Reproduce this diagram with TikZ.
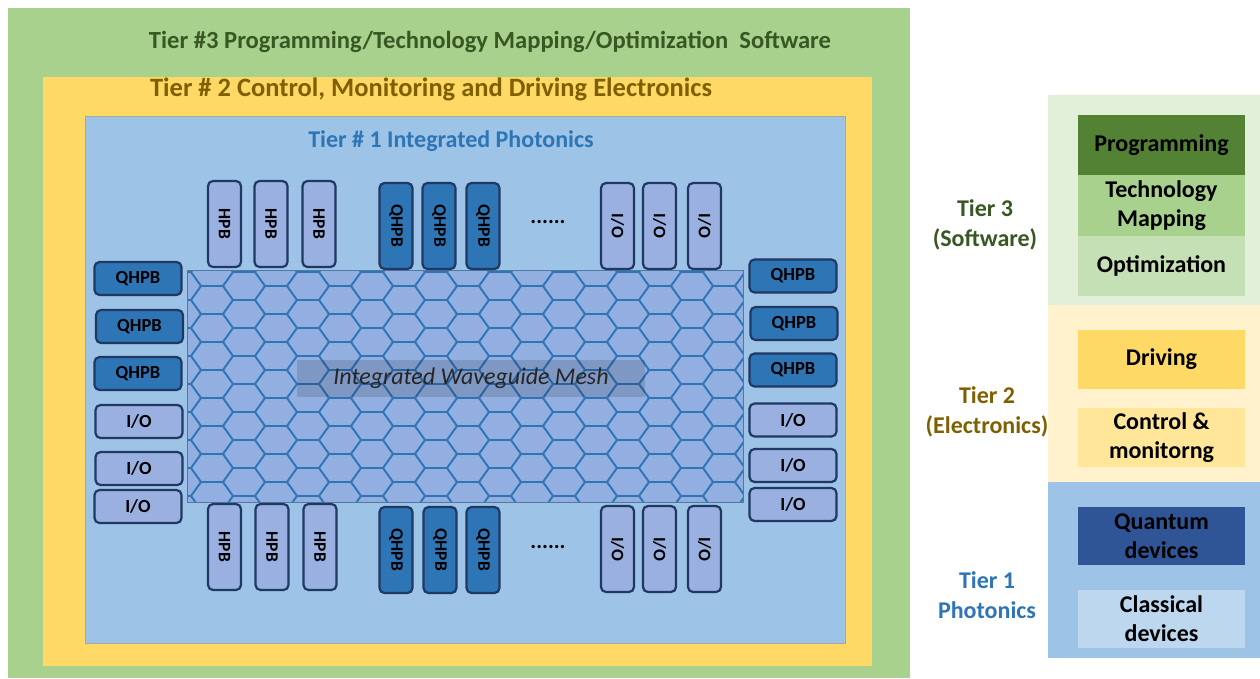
\documentclass[tikz,border=0pt]{standalone}
\usepackage{fontspec}
\setmainfont{Carlito}
\definecolor{tgreen}{HTML}{A9D18E}
\definecolor{tyellow}{HTML}{FFD966}
\definecolor{tblue}{HTML}{9DC3E6}
\definecolor{meshfill}{HTML}{93AEE0}
\definecolor{hexline}{HTML}{2E75B6}
\definecolor{boxlight}{HTML}{9AB0E0}
\definecolor{boxdark}{HTML}{2E75B6}
\definecolor{boxborder}{HTML}{1F3864}
\definecolor{txtgreen}{HTML}{385723}
\definecolor{txtbrown}{HTML}{7F6000}
\definecolor{txtblue}{HTML}{2E75B6}
\definecolor{lgpanel}{HTML}{E2F0D9}
\definecolor{lypanel}{HTML}{FFF2CC}
\definecolor{lbpanel}{HTML}{9DC3E6}
\definecolor{cprog}{HTML}{548235}
\definecolor{ctech}{HTML}{A9D18E}
\definecolor{copt}{HTML}{C5E0B4}
\definecolor{cdrive}{HTML}{FFD966}
\definecolor{cctrl}{HTML}{FFE699}
\definecolor{cquant}{HTML}{2F5597}
\definecolor{cclass}{HTML}{BDD7EE}
\tikzset{
  vbox/.style={draw=boxborder, line width=2.2pt, rounded corners=5pt, fill=boxlight,
    minimum width=33pt, minimum height=86pt, inner sep=0pt,
    font=\bfseries\fontsize{17.5}{17.5}\selectfont},
  vqbox/.style={vbox, fill=boxdark},
  hbox/.style={draw=boxborder, line width=2.2pt, rounded corners=5pt, fill=boxlight,
    minimum width=87pt, minimum height=33pt, inner sep=0pt,
    font=\bfseries\fontsize{18.5}{18.5}\selectfont},
  hqbox/.style={hbox, fill=boxdark},
  title/.style={font=\bfseries\fontsize{24.6}{24.6}\selectfont},
  lgbox/.style={minimum width=167pt, inner sep=0pt, align=center,
    font=\bfseries\fontsize{24}{29}\selectfont, text=black},
  tierlbl/.style={align=center, font=\bfseries\fontsize{24}{30}\selectfont},
  dots/.style={font=\bfseries\fontsize{22}{22}\selectfont}
}
\begin{document}
\begin{tikzpicture}[x=1pt,y=-1pt]
\useasboundingbox (0,0) rectangle (1260,678);
\fill[white] (0,0) rectangle (1260,678);
% tier frames
\fill[tgreen] (8,8) rectangle (910,678);
\fill[tyellow] (43,77) rectangle (872,666);
\fill[tblue] (85,116) rectangle (845,643);
\draw[gray!70, line width=0.6pt] (85,116) rectangle (845,643);
\node[title, text=txtgreen] (t3) at (490,42) {Tier \#3 Programming/Technology Mapping/Optimization\ \ Software};
\node[title, text=txtbrown, font=\bfseries\fontsize{26.5}{26.5}\selectfont] (t2) at (431,89) {Tier \# 2 Control, Monitoring and Driving Electronics};
\node[title, text=txtblue, font=\bfseries\fontsize{24}{24}\selectfont] (t1) at (451,141) {Tier \# 1 Integrated Photonics};
% mesh
\fill[meshfill] (187,270) rectangle (743,502);
\begin{scope}
\clip (187,270) rectangle (743,502);
\foreach \c in {0,...,18}{
  \pgfmathsetmacro{\cx}{180+32*\c}
  \pgfmathsetmacro{\oy}{mod(\c,2)==0 ? 258 : 272}
  \foreach \r in {0,...,9}{
    \pgfmathsetmacro{\cy}{\oy+28*\r}
    \draw[hexline, line width=1.6pt, line join=round]
      (\cx-21,\cy) -- (\cx-11,\cy-14) -- (\cx+11,\cy-14) -- (\cx+21,\cy)
      -- (\cx+11,\cy+14) -- (\cx-11,\cy+14) -- cycle;
  }
}
\end{scope}
\draw[hexline!60!gray, line width=0.5pt] (187,270) rectangle (743,502);
\fill[black, opacity=0.13] (297,360) rectangle (645,397);
\node[font=\itshape\fontsize{24}{24}\selectfont, text=black!85] (mesh) at (471,378) {Integrated Waveguide Mesh};
% top vertical boxes
\node[vbox] (th1) at (224.5,224) {\rotatebox{-90}{HPB}};
\node[vbox] (th2) at (271,224) {\rotatebox{-90}{HPB}};
\node[vbox] (th3) at (319,224) {\rotatebox{-90}{HPB}};
\node[vqbox] (tq1) at (396,226) {\rotatebox{-90}{QHPB}};
\node[vqbox] (tq2) at (439,226) {\rotatebox{-90}{QHPB}};
\node[vqbox] (tq3) at (483,226) {\rotatebox{-90}{QHPB}};
\node[dots] (tdots) at (548,222) {......};
\node[vbox] (ti1) at (617.5,226) {\rotatebox{-90}{I/O}};
\node[vbox] (ti2) at (659.5,226) {\rotatebox{-90}{I/O}};
\node[vbox] (ti3) at (704.5,226) {\rotatebox{-90}{I/O}};
% bottom vertical boxes
\node[vbox] (bh1) at (224.5,547) {\rotatebox{-90}{HPB}};
\node[vbox] (bh2) at (272,547) {\rotatebox{-90}{HPB}};
\node[vbox] (bh3) at (320,547) {\rotatebox{-90}{HPB}};
\node[vqbox] (bq1) at (396,550) {\rotatebox{-90}{QHPB}};
\node[vqbox] (bq2) at (440,550) {\rotatebox{-90}{QHPB}};
\node[vqbox] (bq3) at (483,550) {\rotatebox{-90}{QHPB}};
\node[dots] (bdots) at (548,547) {......};
\node[vbox] (bi1) at (617.5,549) {\rotatebox{-90}{I/O}};
\node[vbox] (bi2) at (659.5,549) {\rotatebox{-90}{I/O}};
\node[vbox] (bi3) at (704.5,549) {\rotatebox{-90}{I/O}};
% left horizontal boxes
\node[hqbox] (lq1) at (138,278.5) {QHPB};
\node[hqbox] (lq2) at (139.5,326.5) {QHPB};
\node[hqbox] (lq3) at (138,373.5) {QHPB};
\node[hbox] (li1) at (139,421.5) {I/O};
\node[hbox] (li2) at (139,468.5) {I/O};
\node[hbox] (li3) at (138,506.5) {I/O};
% right horizontal boxes
\node[hqbox] (rq1) at (793,276) {QHPB};
\node[hqbox] (rq2) at (794,323.5) {QHPB};
\node[hqbox] (rq3) at (793,370) {QHPB};
\node[hbox] (ri1) at (793,420) {I/O};
\node[hbox] (ri2) at (793,465.5) {I/O};
\node[hbox] (ri3) at (793,504.5) {I/O};
% legend panels
\fill[lgpanel] (1048,95) rectangle (1260,305);
\fill[lypanel] (1048,305) rectangle (1260,482);
\fill[lbpanel] (1048,482) rectangle (1260,658);
\node[lgbox, fill=cprog, minimum height=60pt] (lprog) at (1161.5,145) {Programming};
\node[lgbox, fill=ctech, minimum height=61pt] (ltech) at (1161.5,205.5) {Technology\\Mapping};
\node[lgbox, fill=copt, minimum height=60pt] (lopt) at (1161.5,266) {Optimization};
\node[lgbox, fill=cdrive, minimum height=59pt] (ldrive) at (1161.5,359.5) {Driving};
\node[lgbox, fill=cctrl, minimum height=59pt] (lctrl) at (1161.5,437.5) {Control \&\\monitorng};
\node[lgbox, fill=cquant, minimum height=58pt] (lquant) at (1161.5,536) {Quantum\\devices};
\node[lgbox, fill=cclass, minimum height=58pt] (lclass) at (1161.5,619) {Classical\\devices};
\node[tierlbl, text=txtgreen] (lt3) at (985,225) {Tier 3\\(Software)};
\node[tierlbl, text=txtbrown] (lt2) at (987,412) {Tier 2\\(Electronics)};
\node[tierlbl, text=txtblue] (lt1) at (987,595) {Tier 1\\Photonics};
\end{tikzpicture}
\end{document}
